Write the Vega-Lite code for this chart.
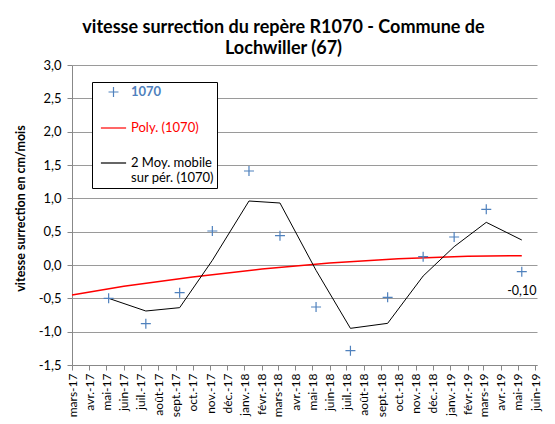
{
  "$schema": "https://vega.github.io/schema/vega-lite/v6.json",
  "autosize": {"type": "none"},
  "width": 465,
  "height": 300,
  "padding": {"left": 72, "top": 65, "right": 18, "bottom": 59},
  "background": "white",
  "title": {
    "text": ["vitesse surrection du repère R1070 - Commune de", "Lochwiller (67)"],
    "font": "Lato",
    "fontSize": 18,
    "fontWeight": "bold",
    "color": "black",
    "anchor": "middle",
    "dx": -21,
    "offset": 1,
    "lineHeight": 21
  },
  "data": {
    "values": [
      {"date": "2017-05-05", "value": -0.5, "series": "1070"},
      {"date": "2017-07-10", "value": -0.88, "series": "1070"},
      {"date": "2017-09-08", "value": -0.415, "series": "1070"},
      {"date": "2017-11-05", "value": 0.51, "series": "1070"},
      {"date": "2018-01-09", "value": 1.41, "series": "1070"},
      {"date": "2018-03-05", "value": 0.44, "series": "1070"},
      {"date": "2018-05-08", "value": -0.63, "series": "1070"},
      {"date": "2018-07-08", "value": -1.285, "series": "1070"},
      {"date": "2018-09-12", "value": -0.485, "series": "1070"},
      {"date": "2018-11-14", "value": 0.125, "series": "1070"},
      {"date": "2019-01-08", "value": 0.42, "series": "1070"},
      {"date": "2019-03-06", "value": 0.835, "series": "1070"},
      {"date": "2019-05-08", "value": -0.1, "series": "1070"},
      {"date": "2017-03-01", "value": -0.45, "series": "Poly. (1070)"},
      {"date": "2017-06-01", "value": -0.32, "series": "Poly. (1070)"},
      {"date": "2017-10-01", "value": -0.18, "series": "Poly. (1070)"},
      {"date": "2018-02-01", "value": -0.06, "series": "Poly. (1070)"},
      {"date": "2018-06-01", "value": 0.03, "series": "Poly. (1070)"},
      {"date": "2018-10-01", "value": 0.095, "series": "Poly. (1070)"},
      {"date": "2019-02-01", "value": 0.13, "series": "Poly. (1070)"},
      {"date": "2019-05-08", "value": 0.14, "series": "Poly. (1070)"},
      {"date": "2017-05-05", "value": -0.5, "series": "2 Moy. mobile sur pér. (1070)"},
      {"date": "2017-07-10", "value": -0.69, "series": "2 Moy. mobile sur pér. (1070)"},
      {"date": "2017-09-08", "value": -0.64, "series": "2 Moy. mobile sur pér. (1070)"},
      {"date": "2017-11-05", "value": 0.07, "series": "2 Moy. mobile sur pér. (1070)"},
      {"date": "2018-01-09", "value": 0.96, "series": "2 Moy. mobile sur pér. (1070)"},
      {"date": "2018-03-05", "value": 0.93, "series": "2 Moy. mobile sur pér. (1070)"},
      {"date": "2018-05-08", "value": -0.08, "series": "2 Moy. mobile sur pér. (1070)"},
      {"date": "2018-07-08", "value": -0.95, "series": "2 Moy. mobile sur pér. (1070)"},
      {"date": "2018-09-12", "value": -0.875, "series": "2 Moy. mobile sur pér. (1070)"},
      {"date": "2018-11-14", "value": -0.165, "series": "2 Moy. mobile sur pér. (1070)"},
      {"date": "2019-01-08", "value": 0.275, "series": "2 Moy. mobile sur pér. (1070)"},
      {"date": "2019-03-06", "value": 0.64, "series": "2 Moy. mobile sur pér. (1070)"},
      {"date": "2019-05-08", "value": 0.375, "series": "2 Moy. mobile sur pér. (1070)"}
    ]
  },
  "encoding": {
    "x": {
      "field": "date",
      "type": "temporal",
      "scale": {
        "type": "utc",
        "domain": [
          {"year": 2017, "month": 3, "date": 1, "utc": true},
          {"year": 2019, "month": 6, "date": 4, "utc": true}
        ]
      },
      "axis": {
        "title": null,
        "labelExpr": "utcFormat(datum.value, '%b-%y')",
        "tickCount": {"interval": "month", "step": 1},
        "labelAngle": -90,
        "labelOverlap": false,
        "labelFont": "Lato",
        "labelFontSize": 12,
        "labelColor": "black",
        "labelPadding": 3,
        "labelBound": false,
        "labelFlush": false,
        "tickSize": 5,
        "tickColor": "#888888",
        "domainColor": "#888888",
        "grid": false
      }
    },
    "y": {
      "field": "value",
      "type": "quantitative",
      "scale": {"domain": [-1.5, 3], "nice": false, "zero": false},
      "axis": {
        "title": "vitesse surrection en cm/mois",
        "titleFont": "Lato",
        "titleFontSize": 12.5,
        "titleFontWeight": "bold",
        "titleColor": "black",
        "titleX": -52,
        "titleY": 143,
        "titleAlign": "center",
        "titleBaseline": "middle",
        "titleAngle": -90,
        "values": [-1.5, -1, -0.5, 0, 0.5, 1, 1.5, 2, 2.5, 3],
        "format": ".1f",
        "labelFont": "Lato",
        "labelFontSize": 13,
        "labelColor": "black",
        "labelPadding": 6,
        "tickSize": 5,
        "tickColor": "#888888",
        "domainColor": "#888888",
        "gridColor": "#9a9a9a",
        "gridWidth": 1
      }
    },
    "color": {
      "field": "series",
      "type": "nominal",
      "scale": {
        "domain": ["1070", "Poly. (1070)", "2 Moy. mobile sur pér. (1070)"],
        "range": ["#4F81BD", "#FF0000", "#000000"]
      },
      "legend": {
        "title": null,
        "orient": "none",
        "legendX": 20,
        "legendY": 17,
        "strokeColor": "black",
        "fillColor": "white",
        "padding": 3,
        "symbolOffset": 11.5,
        "symbolSize": 144,
        "symbolStrokeWidth": 1.2,
        "labelFont": "Lato",
        "labelFontSize": 13,
        "labelOffset": 10.5,
        "labelLimit": 200,
        "rowPadding": 21,
        "labelExpr": "datum.label == '2 Moy. mobile sur pér. (1070)' ? ['2 Moy. mobile', 'sur pér. (1070)'] : datum.label",
        "encode": {
          "symbols": {
            "update": {
              "shape": {"signal": "datum.value == '1070' ? 'M-0.83,0L0.83,0M0,-0.83L0,0.83' : 'M-2.1,0L2.1,0'"},
              "fill": {"value": "transparent"},
              "strokeWidth": {"value": 1.2},
              "opacity": {"value": 1}
            }
          },
          "labels": {
            "update": {
              "fill": {"signal": "datum.value == '1070' ? '#4F81BD' : datum.value == 'Poly. (1070)' ? '#FF0000' : '#000000'"},
              "fontWeight": {"signal": "datum.value == '1070' ? 'bold' : 'normal'"},
              "lineHeight": {"value": 15}
            }
          }
        }
      }
    }
  },
  "layer": [
    {
      "transform": [{"filter": {"field": "series", "equal": "Poly. (1070)"}}],
      "mark": {"type": "line", "strokeWidth": 1.5}
    },
    {
      "transform": [{"filter": {"field": "series", "equal": "2 Moy. mobile sur pér. (1070)"}}],
      "mark": {"type": "line", "strokeWidth": 1}
    },
    {
      "transform": [{"filter": {"field": "series", "equal": "1070"}}],
      "mark": {"type": "point", "shape": "M-1,0L1,0M0,-1L0,1", "filled": false, "size": 100, "strokeWidth": 1.2, "opacity": 1}
    },
    {
      "transform": [
        {"filter": {"field": "series", "equal": "1070"}},
        {"filter": {"field": "value", "equal": -0.1}}
      ],
      "mark": {"type": "text", "dy": 19, "font": "Lato", "fontSize": 12.5, "color": "black"},
      "encoding": {
        "text": {"field": "value", "type": "quantitative", "format": ".2f"},
        "color": {"value": "black"}
      }
    }
  ],
  "config": {
    "view": {"stroke": null},
    "locale": {
      "number": {"decimal": ",", "thousands": " ", "grouping": [3], "currency": ["", " €"], "minus": "-"},
      "time": {
        "dateTime": "%A %e %B %Y à %X",
        "date": "%d/%m/%Y",
        "time": "%H:%M:%S",
        "periods": ["AM", "PM"],
        "days": ["dimanche", "lundi", "mardi", "mercredi", "jeudi", "vendredi", "samedi"],
        "shortDays": ["dim.", "lun.", "mar.", "mer.", "jeu.", "ven.", "sam."],
        "months": ["janvier", "février", "mars", "avril", "mai", "juin", "juillet", "août", "septembre", "octobre", "novembre", "décembre"],
        "shortMonths": ["janv.", "févr.", "mars", "avr.", "mai", "juin", "juil.", "août", "sept.", "oct.", "nov.", "déc."]
      }
    }
  }
}
